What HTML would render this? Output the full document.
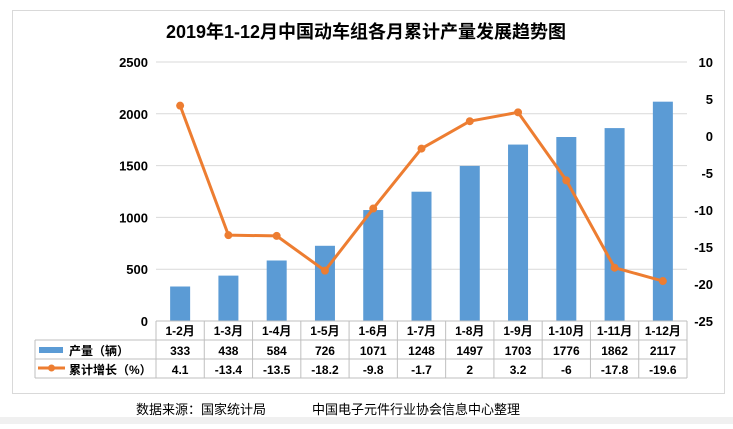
<!DOCTYPE html>
<html><head><meta charset="utf-8"><style>
body{margin:0;background:#fff;font-family:"Liberation Sans","Noto Sans CJK SC",sans-serif;}
svg text{font-family:"Liberation Sans","Noto Sans CJK SC",sans-serif;}
</style></head><body>
<svg width="733" height="424" viewBox="0 0 733 424">
<rect x="0" y="417" width="733" height="7" fill="#f0f0f0"/>
<rect x="12.5" y="10.5" width="712" height="383" fill="#fff" stroke="#d9d9d9"/>
<text x="366" y="38" text-anchor="middle" font-size="18" font-weight="bold">2019年1-12月中国动车组各月累计产量发展趋势图</text>
<g id="grid"></g><g id="bars"></g><g id="line"></g><g id="axes"></g><g id="table"></g>
<text x="136" y="414" font-size="13">数据来源：国家统计局</text>
<text x="312" y="414" font-size="13">中国电子元件行业协会信息中心整理</text>
</svg>
<script>
const categories=["1-2月","1-3月","1-4月","1-5月","1-6月","1-7月","1-8月","1-9月","1-10月","1-11月","1-12月"];
const output=[333,438,584,726,1071,1248,1497,1703,1776,1862,2117];
const growth=[4.1,-13.4,-13.5,-18.2,-9.8,-1.7,2,3.2,-6,-17.8,-19.6];
const leftTicks=[0,500,1000,1500,2000,2500];
const rightTicks=[10,5,0,-5,-10,-15,-20,-25];
const NS="http://www.w3.org/2000/svg";
const X0=156,X1=687,YT=62,YB=321;
const cw=(X1-X0)/categories.length;
const xc=i=>X0+cw*(i+0.5);
const yL=v=>YB-(v/2500)*(YB-YT);
const yR=v=>YB-((v+25)/35)*(YB-YT);
function mk(tag,attrs,parent,txt){const e=document.createElementNS(NS,tag);for(const k in attrs)e.setAttribute(k,attrs[k]);if(txt!==undefined)e.textContent=txt;document.getElementById(parent).appendChild(e);return e;}
leftTicks.forEach(t=>{
 if(t>0){const g=mk('line',{x1:X0,x2:X1,y1:yL(t),y2:yL(t),stroke:'#d9d9d9','stroke-width':1},'grid');
 
 }
 const l=mk('text',{x:148,y:yL(t)+5,'text-anchor':'end','font-size':13,'font-weight':'bold'},'axes',t);
 
 
});
rightTicks.forEach(t=>{
 const l=mk('text',{x:713,y:yR(t)+5,'text-anchor':'end','font-size':13,'font-weight':'bold'},'axes',t);
 
 
});
output.forEach((v,i)=>{
 const b=mk('rect',{x:xc(i)-10,y:yL(v),width:20,height:YB-yL(v),fill:'#5b9bd5'},'bars');
 
 
});
const pl=mk('polyline',{points:growth.map((v,i)=>xc(i)+','+yR(v)).join(' '),fill:'none',stroke:'#ed7d31','stroke-width':3,'stroke-linejoin':'round'},'line');


growth.forEach((v,i)=>{
 const c=mk('circle',{cx:xc(i),cy:yR(v),r:4,fill:'#ed7d31'},'line');
 
 
});
const rows=[321,340,359,378],TL=35;
const st={stroke:'#bfbfbf','stroke-width':1};
function ln(x1,y1,x2,y2){const l=mk('line',Object.assign({x1,y1,x2,y2},st),'table');
 
 }
ln(X0,rows[0],X1,rows[0]);
ln(TL,rows[1],X1,rows[1]);ln(TL,rows[2],X1,rows[2]);ln(TL,rows[3],X1,rows[3]);
ln(TL,rows[1],TL,rows[3]);
for(let i=0;i<=categories.length;i++)ln(X0+cw*i,rows[0],X0+cw*i,rows[3]);
categories.forEach((c,i)=>{
 const t=mk('text',{x:xc(i),y:335,'text-anchor':'middle','font-size':12,'font-weight':'bold'},'table',c);
 
 
 const a=mk('text',{x:xc(i),y:355,'text-anchor':'middle','font-size':12,'font-weight':'bold'},'table',output[i]);
 
 
 const g=mk('text',{x:xc(i),y:374,'text-anchor':'middle','font-size':12,'font-weight':'bold'},'table',growth[i]);
 
 
});
const lk1=mk('rect',{x:39,y:347,width:24,height:6,fill:'#5b9bd5'},'table');


const lt1=mk('text',{x:69,y:355,'font-size':12,'font-weight':'bold'},'table','产量（辆）');


const lk2=mk('line',{x1:38,y1:368,x2:65,y2:368,stroke:'#ed7d31','stroke-width':3},'table');


const lc=mk('circle',{cx:51.5,cy:368,r:3.5,fill:'#ed7d31'},'table');


const lt2=mk('text',{x:69,y:374,'font-size':12,'font-weight':'bold'},'table','累计增长（%）');


</script>
</body></html>
